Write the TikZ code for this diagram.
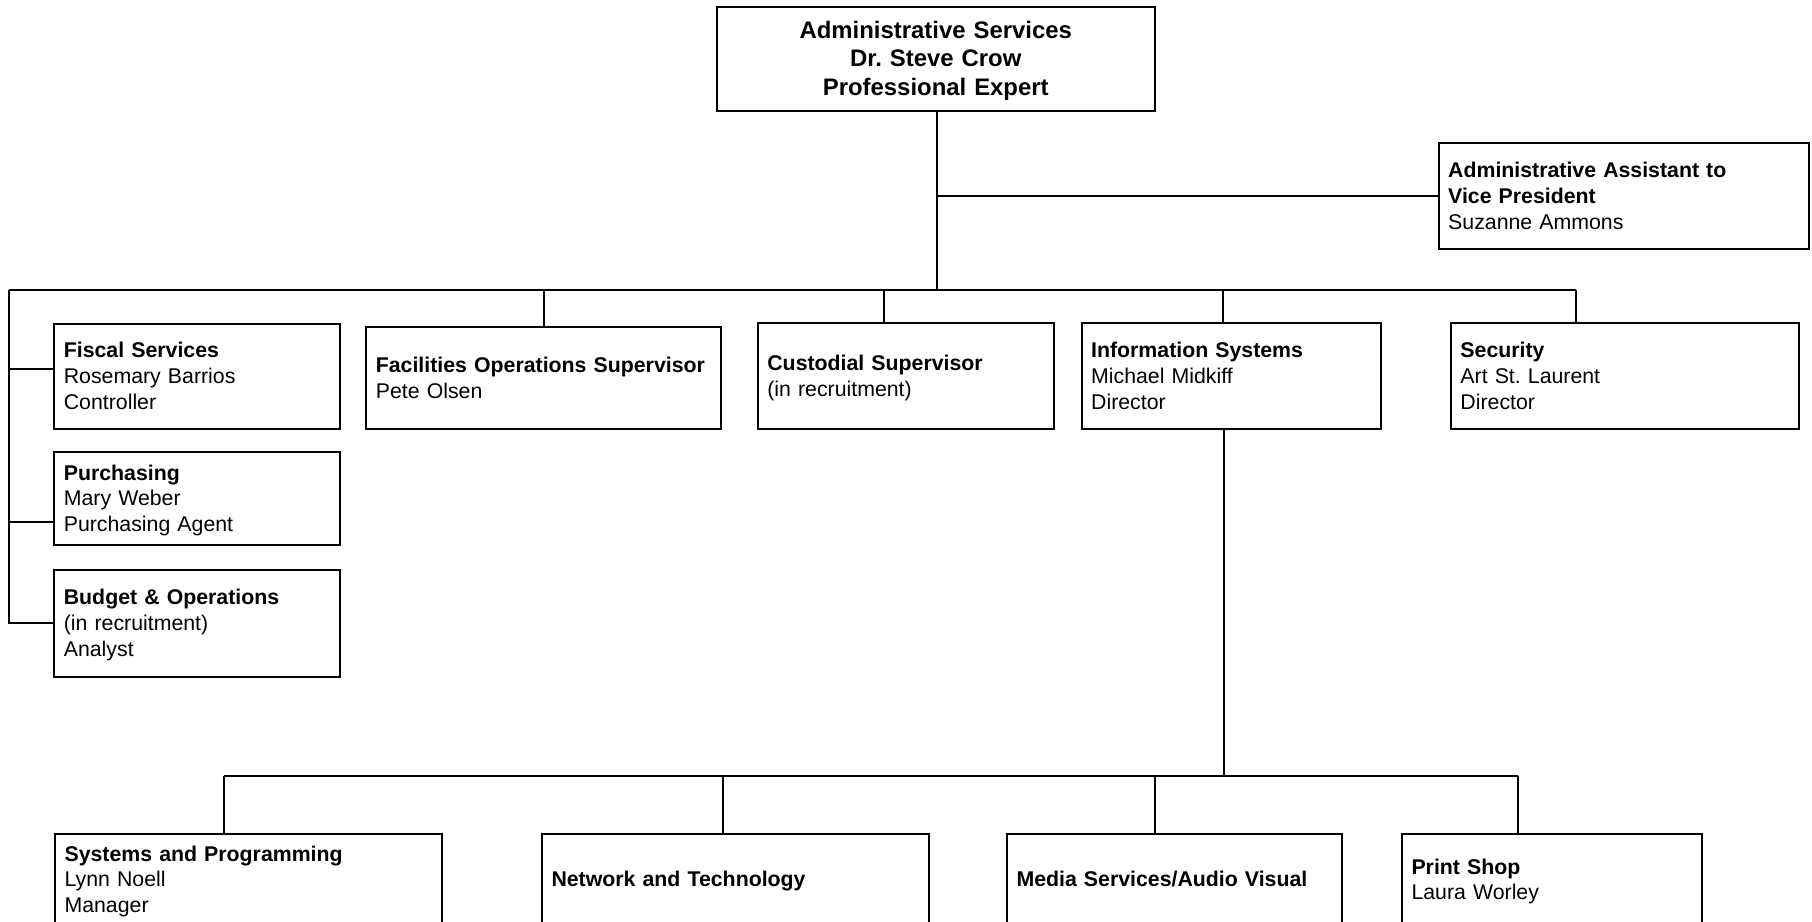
\documentclass[tikz,border=0pt]{standalone}
\usepackage{fontspec}
\setmainfont{Liberation Sans}
\frenchspacing
\newcommand\bst{\rule{0pt}{0.905em}}
\newcommand\est{\rule[-0.212em]{0pt}{0.212em}}
\begin{document}
\begin{tikzpicture}[x=1pt,y=-1pt,line width=2pt,
  box/.style={draw, rectangle, inner xsep=9.5pt, inner ysep=0pt, align=left,
    font=\fontsize{21.3}{25.7}\selectfont,
    execute at begin node=\bst, execute at end node=\est},
  headbox/.style={box, align=center, font=\fontsize{23.9}{28.5}\selectfont\bfseries}]
\useasboundingbox (0,0) rectangle (1812,921);
\clip (0,0) rectangle (1812,921);

% nodes
\node[headbox, minimum width=437.5, minimum height=104, text width=418.5] (top) at (935.75,58.5)
  {Administrative Services\\Dr. Steve Crow\\Professional Expert};
\node[box, minimum width=369.8, minimum height=106, text width=350.8] (asst) at (1623.6,196)
  {\textbf{Administrative Assistant to}\\\textbf{Vice President}\\Suzanne Ammons};

\node[box, minimum width=285.7, minimum height=105.4, text width=266.7] (fiscal) at (197.2,376.3)
  {\textbf{Fiscal Services}\\Rosemary Barrios\\Controller};
\node[box, minimum width=285.7, minimum height=93.6, text width=266.7] (purch) at (197.2,498.5)
  {\textbf{Purchasing}\\Mary Weber\\Purchasing Agent};
\node[box, minimum width=285.7, minimum height=106.7, text width=266.7] (budget) at (197.2,623.3)
  {\textbf{Budget \& Operations}\\(in recruitment)\\Analyst};
\node[box, minimum width=354.7, minimum height=102, text width=335.7] (fac) at (543.7,378)
  {\textbf{Facilities Operations Supervisor}\\Pete Olsen};
\node[box, minimum width=295.7, minimum height=105.7, text width=276.7] (cust) at (905.7,376.2)
  {\textbf{Custodial Supervisor}\\(in recruitment)};
\node[box, minimum width=299.7, minimum height=106, text width=280.7] (info) at (1231.5,376.3)
  {\textbf{Information Systems}\\Michael Midkiff\\Director};
\node[box, minimum width=347.7, minimum height=106, text width=328.7] (sec) at (1624.8,376.3)
  {\textbf{Security}\\Art St. Laurent\\Director};

\node[box, minimum width=387.3, minimum height=91, text width=368.3] (sys) at (248.7,879.5)
  {\textbf{Systems and Programming}\\Lynn Noell\\Manager};
\node[box, minimum width=387, minimum height=91, text width=368] (net) at (735.5,879.5)
  {\textbf{Network and Technology}};
\node[box, minimum width=335, minimum height=91, text width=316] (media) at (1174.5,879.5)
  {\textbf{Media Services/Audio Visual}};
\node[box, minimum width=300.4, minimum height=91, text width=281.4] (print) at (1552.2,879.5)
  {\textbf{Print Shop}\\Laura Worley};

% junction coordinates
\coordinate (topJ) at (937.3,289.5);
\coordinate (busL) at (9,289.5);
\coordinate (busR) at (1575.6,289.5);
\coordinate (dFac) at (543.6,289.5);
\coordinate (dCust) at (883.9,289.5);
\coordinate (dInfo) at (1223.1,289.5);
\coordinate (tFis) at (54.3,369.3);
\coordinate (tPur) at (54.3,522.3);
\coordinate (lbL) at (224,775.5);
\coordinate (lbR) at (1517.6,775.5);
\coordinate (lbNet) at (723.2,775.5);
\coordinate (lbMed) at (1154.6,775.5);
\coordinate (lbInfo) at (1223.5,775.5);

% connectors
\draw (topJ |- top.south) -- (topJ);
\draw (asst.west) -- (asst.west -| topJ);
\draw (busL) -- (busR);
\draw (busL) |- (budget.west);
\draw (tFis) -- (tFis -| busL);
\draw (tPur) -- (tPur -| busL);
\draw (dFac) -- (dFac |- fac.north);
\draw (dCust) -- (dCust |- cust.north);
\draw (dInfo) -- (dInfo |- info.north);
\draw (busR) -- (busR |- sec.north);
\draw (lbInfo |- info.south) -- (lbInfo);
\draw (lbL) -- (lbR);
\draw (lbL) -- (lbL |- sys.north);
\draw (lbNet) -- (lbNet |- net.north);
\draw (lbMed) -- (lbMed |- media.north);
\draw (lbR) -- (lbR |- print.north);
\end{tikzpicture}
\end{document}
